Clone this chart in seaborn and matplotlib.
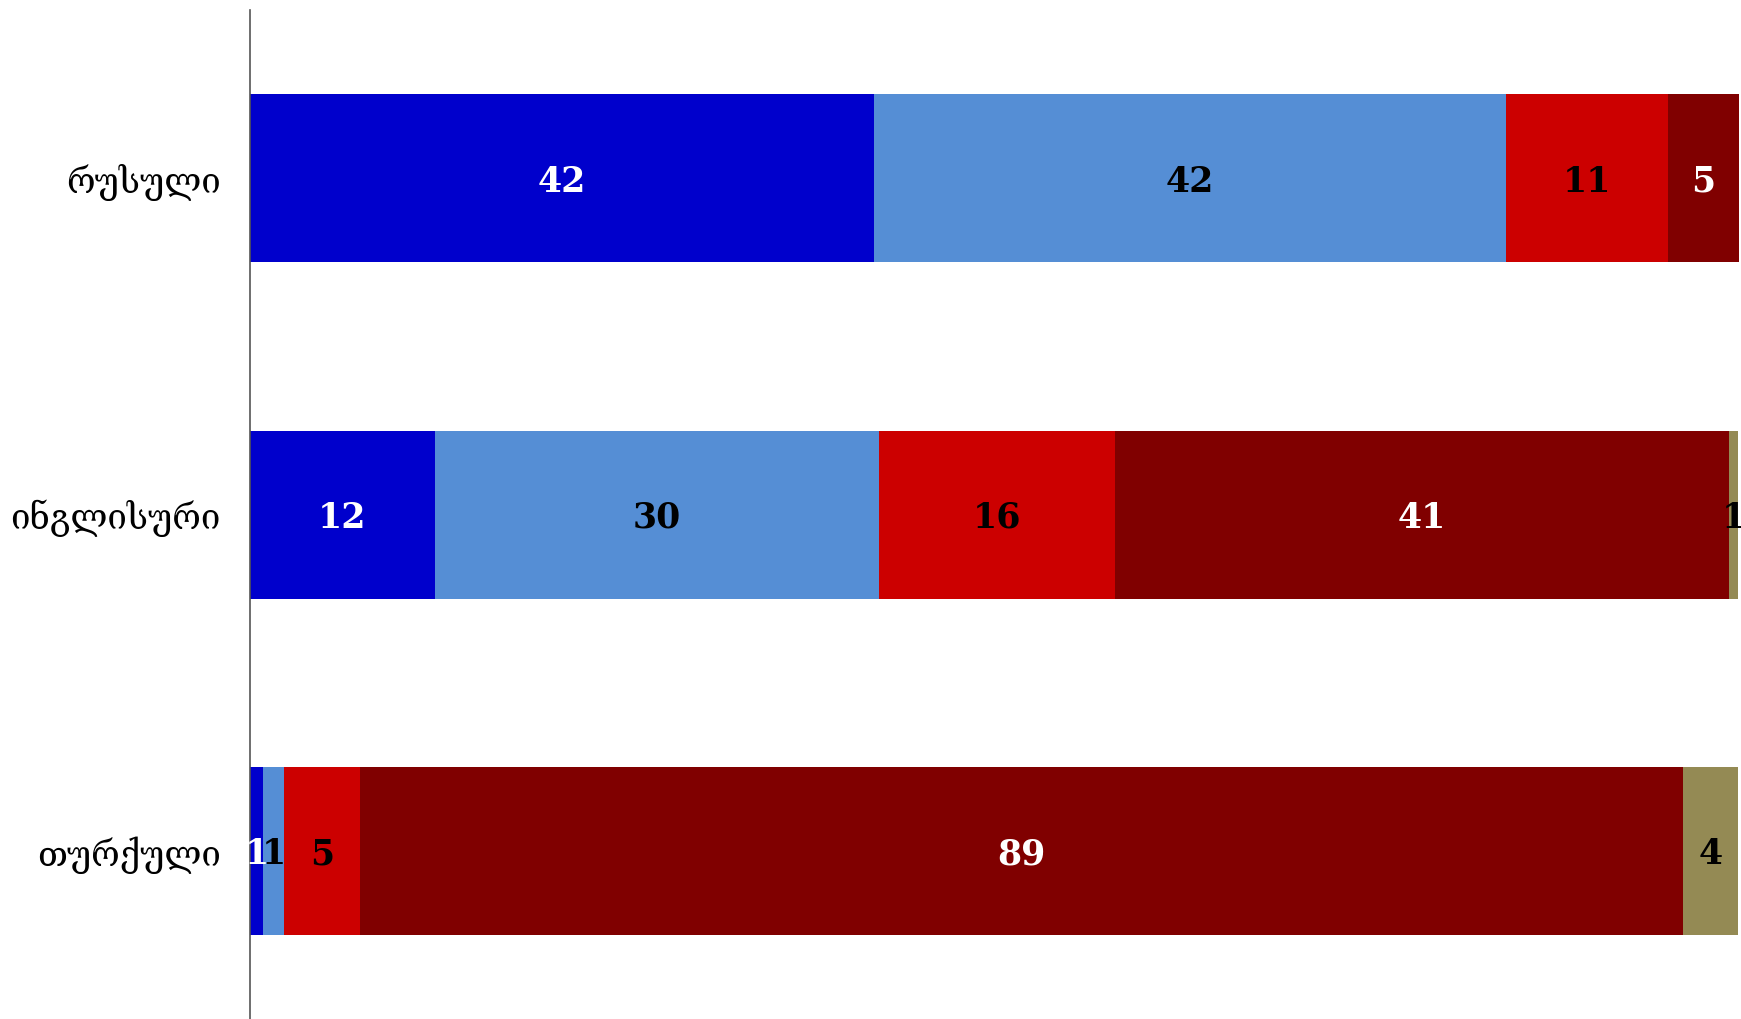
import numpy as np
import pandas as pd
import matplotlib
matplotlib.use("Agg")
import matplotlib.pyplot as plt
import seaborn as sns

# categories (top to bottom)
languages = ["რუსული", "ინგლისური", "თურქული"]

# segment values (percent), left to right
seg1 = [41.9, 12.4, 0.9]
seg2 = [42.4, 29.8, 1.4]
seg3 = [10.9, 15.9, 5.1]
seg4 = [4.8, 41.2, 88.8]
seg5 = [0.0, 0.6, 3.7]

segments = [seg1, seg2, seg3, seg4, seg5]
colors = ["#0000CC", "#558ED5", "#CC0000", "#800000", "#948A54"]
text_colors = ["white", "black", "black", "white", "black"]

sns.set_style("white")
plt.rcParams["font.family"] = ["DejaVu Serif", "DejaVu Sans"]

fig = plt.figure(figsize=(17.41, 10.19), dpi=100)
ax = fig.add_axes([0.1436, 0.0, 0.8555, 0.990])

vals = np.array(segments)
cums = np.cumsum(vals, axis=0)

# stacked bars: draw cumulative totals from the widest to the narrowest
for i in range(len(segments) - 1, -1, -1):
    df = pd.DataFrame({"lang": languages, "val": cums[i]})
    sns.barplot(data=df, x="val", y="lang", orient="h", color=colors[i],
                saturation=1, width=0.5, ax=ax, edgecolor="none")

# value labels
for i in range(len(segments)):
    for j in range(len(languages)):
        v = vals[i, j]
        if v <= 0:
            continue
        center = cums[i, j] - v / 2
        ax.text(center, j + 0.01, str(int(round(v))), ha="center", va="center",
                color=text_colors[i], fontsize=25, fontweight="bold",
                clip_on=False)

ax.set_xlim(0, 100)
ax.set_ylim(2.5, -0.5)
ax.set_xlabel("")
ax.set_ylabel("")
ax.set_xticks([])
ax.tick_params(axis="y", length=0, labelsize=25, pad=21, labelcolor="black")
for s in ["top", "right", "bottom"]:
    ax.spines[s].set_visible(False)
ax.spines["left"].set_color("#555555")
ax.spines["left"].set_linewidth(1.2)

fig.savefig("out.png", dpi=100)
